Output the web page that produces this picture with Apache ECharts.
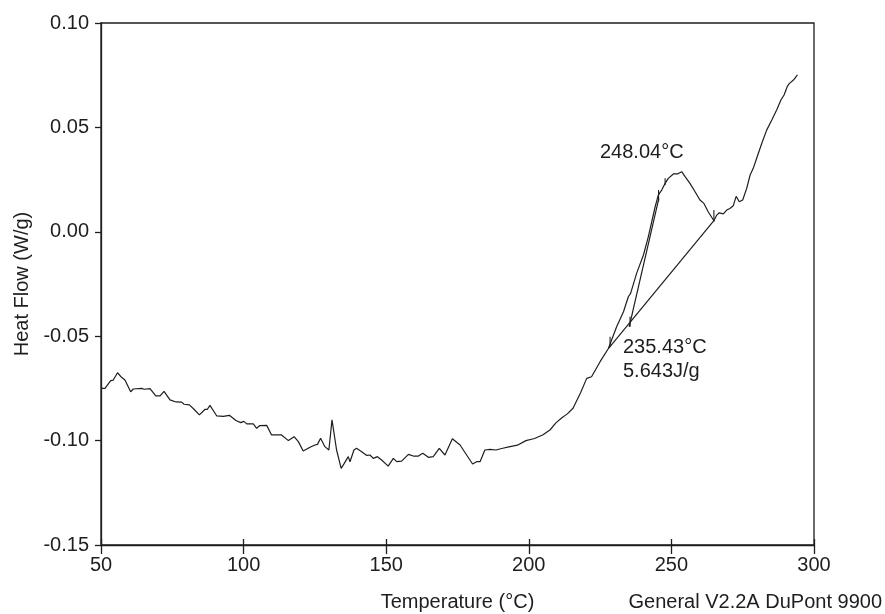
<!DOCTYPE html>
<html>
<head>
<meta charset="utf-8">
<script src="https://cdn.jsdelivr.net/npm/echarts@6/dist/echarts.min.js"></script>
<style>
html,body{margin:0;padding:0;background:#fff;}
#chart{width:885px;height:614px;}
</style>
</head>
<body>
<div id="chart"></div>
<script>
// ---- data ----
var temperature = [50, 51.4, 53.4, 54.3, 55.8, 57.2, 58.4, 60.4, 61.3, 64.3, 65.1, 67.2, 69.2, 70.7, 72.1, 72.8, 74.2, 76.3, 78.3, 79.1, 81.0, 82.6, 84.5, 86.5, 87.3, 88.2, 90.6, 92.9, 95.0, 97.3, 99.0, 100.1, 101.1, 103.4, 104.6, 105.7, 108.1, 109.8, 113.3, 115.7, 117.7, 119.2, 120.9, 123.3, 125.0, 125.9, 127.0, 128.5, 129.9, 131.0, 132.6, 134.2, 135.3, 136.7, 137.3, 138.7, 139.6, 141.4, 143.2, 144.3, 145.5, 146.9, 148.4, 150.7, 152.5, 153.7, 155.4, 157.8, 159.5, 161.3, 162.8, 164.8, 166.5, 168.6, 170.6, 173.2, 175.9, 178.2, 180.3, 181.7, 182.9, 184.6, 186.4, 188.5, 190.5, 193.0, 196.0, 199.0, 202.0, 205.0, 207.5, 209.5, 211.5, 213.5, 215.5, 218.2, 220.3, 222.0, 225.0, 227.9, 230.8, 233.2, 234.9, 235.7, 237.8, 240.2, 241.9, 244.3, 245.4, 246.6, 247.8, 248.9, 250.7, 252.1, 253.6, 254.8, 256.5, 258.3, 260.0, 261.4, 262.9, 264.9, 265.9, 266.8, 268.2, 269.4, 270.5, 271.7, 272.7, 273.8, 275.0, 276.4, 277.6, 278.7, 279.9, 281.7, 283.4, 285.2, 286.9, 288.4, 289.5, 290.7, 291.4, 292.8, 294.2];
var heatFlow = [-0.0750, -0.0750, -0.0713, -0.0710, -0.0675, -0.0697, -0.0710, -0.0766, -0.0753, -0.0750, -0.0754, -0.0751, -0.0786, -0.0786, -0.0764, -0.0770, -0.0805, -0.0815, -0.0816, -0.0826, -0.0829, -0.0850, -0.0877, -0.0850, -0.0850, -0.0831, -0.0882, -0.0884, -0.0879, -0.0904, -0.0914, -0.0908, -0.0920, -0.0920, -0.0941, -0.0928, -0.0927, -0.0973, -0.0973, -0.1000, -0.0981, -0.1005, -0.1050, -0.1032, -0.1021, -0.1018, -0.0989, -0.1029, -0.1045, -0.0901, -0.1045, -0.1133, -0.1109, -0.1077, -0.1101, -0.1045, -0.1037, -0.1053, -0.1071, -0.1069, -0.1085, -0.1077, -0.1093, -0.1122, -0.1085, -0.1101, -0.1098, -0.1066, -0.1074, -0.1074, -0.1061, -0.1080, -0.1077, -0.1037, -0.1069, -0.0991, -0.1021, -0.1069, -0.1112, -0.1101, -0.1101, -0.1045, -0.1042, -0.1045, -0.1038, -0.1030, -0.1022, -0.1000, -0.0990, -0.0972, -0.0948, -0.0915, -0.0892, -0.0872, -0.0845, -0.0770, -0.0702, -0.0694, -0.0622, -0.0559, -0.0455, -0.0383, -0.0311, -0.0295, -0.0199, -0.0111, -0.0024, 0.0120, 0.0176, 0.0200, 0.0232, 0.0256, 0.0277, 0.0277, 0.0288, 0.0264, 0.0232, 0.0192, 0.0152, 0.0136, 0.0096, 0.0053, 0.0080, 0.0091, 0.0086, 0.0104, 0.0112, 0.0125, 0.0170, 0.0144, 0.0152, 0.0208, 0.0272, 0.0304, 0.0352, 0.0424, 0.0487, 0.0535, 0.0583, 0.0631, 0.0655, 0.0698, 0.0711, 0.0727, 0.0751];

// integration baseline and onset tangent
var baselineT = [227.9, 264.9];
var baselineHF = [-0.0559, 0.0053];
var tangentT = [235.2, 245.6];
var tangentHF = [-0.0455, 0.0160];

// small vertical limit ticks on the curve
var limitT = [228.5, 235.5, 245.5, 247.8, 264.9];
var limitLow = [-0.0550, -0.0455, 0.0144, 0.0224, 0.0048];
var limitHigh = [-0.0503, -0.0407, 0.0200, 0.0256, 0.0104];

// axis ticks
var xTicks = [50, 100, 150, 200, 250, 300];
var yTicks = [-0.15, -0.10, -0.05, 0.00, 0.05, 0.10];

// annotation texts
var peakLabel = '248.04°C';
var onsetLabel = '235.43°C';
var enthalpyLabel = '5.643J/g';

var FONT = '"Liberation Sans", Arial, sans-serif';
var FS = 20;
var INK = '#1e1e1e';

function pairs(xs, ys) { return xs.map(function (x, i) { return [x, ys[i]]; }); }

var tickSegments = [];
limitT.forEach(function (t, i) {
  tickSegments.push([t, limitLow[i]]);
  tickSegments.push([t, limitHigh[i]]);
  tickSegments.push([t, '-']);
});

var lineStyle = { color: INK, width: 1.2 };

var chart = echarts.init(document.getElementById('chart'), null, { renderer: 'canvas' });
chart.setOption({
  backgroundColor: '#fff',
  animation: false,
  grid: { left: 101, right: 71, top: 23, bottom: 69, containLabel: false, outerBoundsMode: 'none',
    show: true, borderColor: INK, borderWidth: 1.3, backgroundColor: 'transparent' },
  xAxis: [{
    type: 'value', min: 50, max: 300, interval: 50,
    name: 'Temperature (°C)', nameLocation: 'middle', nameGap: 47,
    nameTextStyle: { fontFamily: FONT, fontSize: FS, color: INK },
    axisLine: { show: true, onZero: false, lineStyle: { color: INK, width: 1.3 } },
    axisTick: { show: true, length: 9, lineStyle: { color: INK, width: 1.3 } },
    axisLabel: { margin: 10, fontFamily: FONT, fontSize: FS, color: INK,
      formatter: function (v) { return xTicks.indexOf(v) >= 0 ? String(v) : ''; } },
    splitLine: { show: false }
  }, {
    type: 'value', min: 50, max: 300, interval: 50, position: 'bottom',
    axisLine: { show: false, onZero: false },
    axisTick: { show: true, inside: true, length: 6, lineStyle: { color: INK, width: 1.3 } },
    axisLabel: { show: false },
    splitLine: { show: false }
  }],
  yAxis: {
    type: 'value', min: -0.15, max: 0.10, interval: 0.05,
    name: 'Heat Flow (W/g)', nameLocation: 'middle', nameGap: 67, nameRotate: 90,
    nameTextStyle: { fontFamily: FONT, fontSize: FS, color: INK },
    axisLine: { show: true, onZero: false, lineStyle: { color: INK, width: 1.3 } },
    axisTick: { show: true, length: 6, lineStyle: { color: INK, width: 1.3 } },
    axisLabel: { margin: 12, fontFamily: FONT, fontSize: FS, color: INK,
      formatter: function (v) {
        var best = yTicks.reduce(function (a, b) { return Math.abs(b - v) < Math.abs(a - v) ? b : a; });
        return best.toFixed(2);
      } },
    splitLine: { show: false }
  },
  series: [{
    type: 'line', data: pairs(temperature, heatFlow), showSymbol: false, symbol: 'none',
    lineStyle: lineStyle, silent: true
  }, {
    type: 'line', data: pairs(baselineT, baselineHF), showSymbol: false, symbol: 'none',
    lineStyle: lineStyle, silent: true
  }, {
    type: 'line', data: pairs(tangentT, tangentHF), showSymbol: false, symbol: 'none',
    lineStyle: lineStyle, silent: true
  }, {
    type: 'line', data: tickSegments, showSymbol: false, symbol: 'none', connectNulls: false,
    lineStyle: { color: INK, width: 1.1 }, silent: true
  }],
  graphic: [
    { type: 'text', right: 3, top: 592, style: { text: 'General V2.2A DuPont 9900', font: FS + 'px ' + FONT, fill: INK } },
    { type: 'text', left: 600, top: 142, style: { text: peakLabel, font: FS + 'px ' + FONT, fill: INK } },
    { type: 'text', left: 623, top: 337, style: { text: onsetLabel, font: FS + 'px ' + FONT, fill: INK } },
    { type: 'text', left: 623, top: 361, style: { text: enthalpyLabel, font: FS + 'px ' + FONT, fill: INK } }
  ]
});
</script>
</body>
</html>
